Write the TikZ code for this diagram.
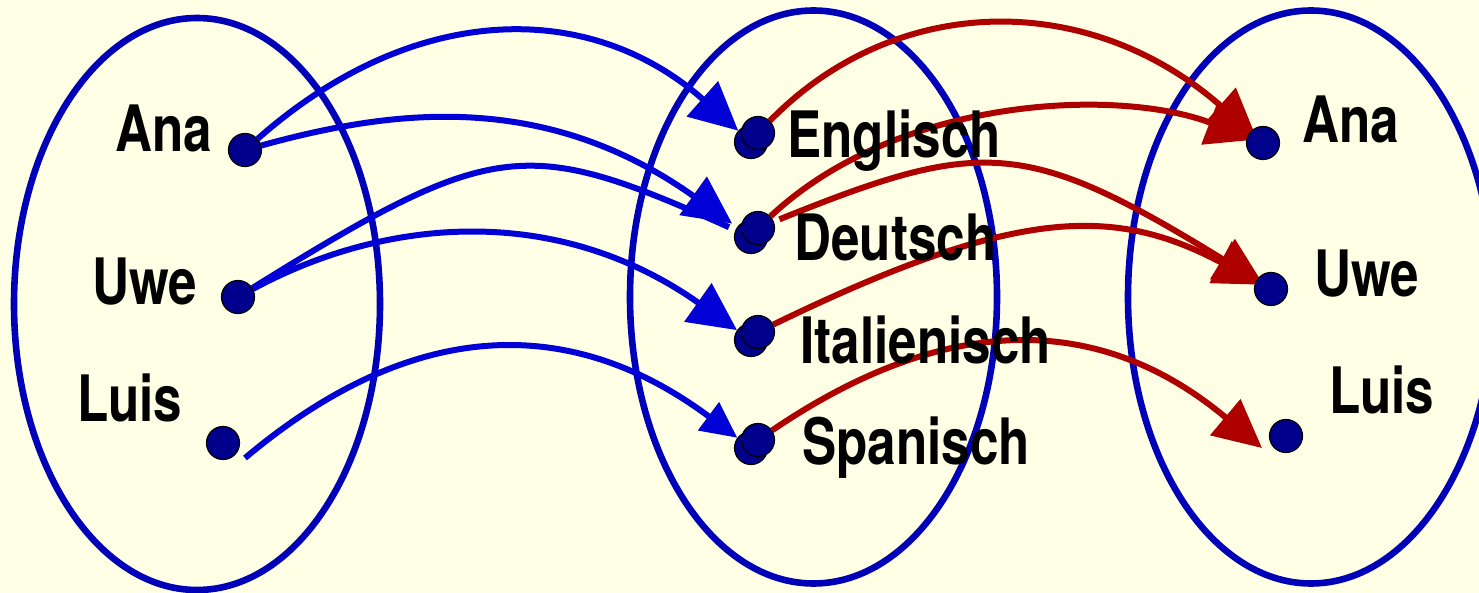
\documentclass[tikz,border=0pt]{standalone}
\usepackage{fontspec}
\setmainfont{TeX Gyre Heros}[FakeStretch=0.8]
\usepackage{tikz}
\usetikzlibrary{arrows.meta,calc}

\definecolor{paper}{RGB}{255,255,230}
\definecolor{ringblue}{RGB}{0,0,185}
\definecolor{arrblue}{RGB}{0,0,215}
\definecolor{arrred}{RGB}{175,0,0}
\definecolor{dotblue}{RGB}{0,0,140}
\newcommand{\tagfont}{\fontsize{32}{38}\selectfont\bfseries}

\pgfdeclarelayer{back}
\pgfsetlayers{back,main}

\tikzset{
  ring/.style={draw=ringblue, line width=3.3pt},
  ball/.style={circle, fill=dotblue, draw=black, line width=0.6pt, minimum size=16.5pt, inner sep=0pt},
  tagtext/.style={anchor=base west, inner sep=0pt, font=\tagfont},
  bluearr/.style={draw=arrblue, line width=3pt, -{Triangle[length=24pt,width=23pt]}},
  redarr/.style={draw=arrred, line width=3pt, -{Triangle[length=24pt,width=23pt]}},
}

\begin{document}
\begin{tikzpicture}[x=0.5pt,y=0.5pt,yscale=-1,xscale=1]
\useasboundingbox (0,0) rectangle (1479,593);

\begin{pgfonlayer}{back}
%Shape: Rectangle [background]
\fill[paper] (0,0) rectangle (1479,593);
%Shape: Ellipse [persons]
\draw[ring] (197,304) ellipse [x radius=183, y radius=286];
%Shape: Ellipse [languages]
\draw[ring] (813.5,297) ellipse [x radius=183.5, y radius=286.5];
%Shape: Ellipse [persons again]
\draw[ring] (1311,297) ellipse [x radius=183, y radius=286.5];
\end{pgfonlayer}

%Shape: Circle [left]
\node[ball] (l-ana) at (245,150) {};
\node[ball] (l-uwe) at (238,297) {};
\node[ball] (l-luis) at (223,443) {};
%Shape: Circle [middle, lower]
\node[ball] (m-en-in) at (751,142) {};
\node[ball] (m-de-in) at (751,237) {};
\node[ball] (m-it-in) at (751,340) {};
\node[ball] (m-sp-in) at (751,448) {};
%Shape: Circle [middle, upper]
\node[ball] (m-en) at (758,133) {};
\node[ball] (m-de) at (758,228) {};
\node[ball] (m-it) at (758,332) {};
\node[ball] (m-sp) at (758,440) {};
%Shape: Circle [right]
\node[ball] (r-ana) at (1263,143) {};
\node[ball] (r-uwe) at (1271,289) {};
\node[ball] (r-luis) at (1286,436) {};

\coordinate (luis-tail) at ($(l-luis)+(22,15)$);
\coordinate (luis-head) at ($(r-luis)+(-24,12)$);

\begin{pgfonlayer}{back}
%Curve Lines [blue]
\draw[bluearr] (l-ana) .. controls +(170,-150) and +(-160,-142) .. (m-en-in);
\draw[bluearr, shorten >=3pt] (l-ana) .. controls +(145,-40) and +(-208,-148) .. (m-de-in);
\draw[draw=arrblue, line width=3pt, shorten >=3.5pt] (l-uwe) .. controls +(257,-160) and +(-224,-100) .. (m-de-in);
\draw[bluearr] (l-uwe) .. controls +(152,-82) and +(-191,-135) .. (m-it-in);
\draw[bluearr, -{Triangle[length=18pt,width=17pt]}] (luis-tail) .. controls (415,315) and +(-178,-133) .. (m-sp-in);
%Curve Lines [red]
\draw[redarr, shorten >=-4pt] (m-en) .. controls +(139,-142) and +(-173,-152) .. (r-ana);
\draw[redarr, shorten >=-4pt] (m-de) .. controls +(142,-133) and +(-143,-55) .. (r-ana);
\draw[redarr, shorten <=3pt, shorten >=-4pt] (m-de) .. controls +(223,-90) and +(-245,-151) .. (r-uwe);
\draw[redarr, shorten >=-4pt] (m-it) .. controls +(259,-126) and +(-156,-83) .. (r-uwe);
\draw[redarr] (m-sp) .. controls +(188,-128) and (1100,312) .. (luis-head);
\end{pgfonlayer}

% Text Node
\node[tagtext] (t-l-ana) at (115,152) {Ana};
% Text Node
\node[tagtext] (t-l-uwe) at (92,305) {Uwe};
% Text Node
\node[tagtext] (t-l-luis) at (77,422) {Luis};
% Text Node
\node[tagtext] (t-en) at (787,158) {Englisch};
% Text Node
\node[tagtext] (t-de) at (794,261) {Deutsch};
% Text Node
\node[tagtext] (t-it) at (800,364) {Italienisch};
% Text Node
\node[tagtext] (t-sp) at (802,465) {Spanisch};
% Text Node
\node[tagtext] (t-r-ana) at (1302,143) {Ana};
% Text Node
\node[tagtext] (t-r-uwe) at (1314,297) {Uwe};
% Text Node
\node[tagtext] (t-r-luis) at (1329,414) {Luis};
\end{tikzpicture}
\end{document}
